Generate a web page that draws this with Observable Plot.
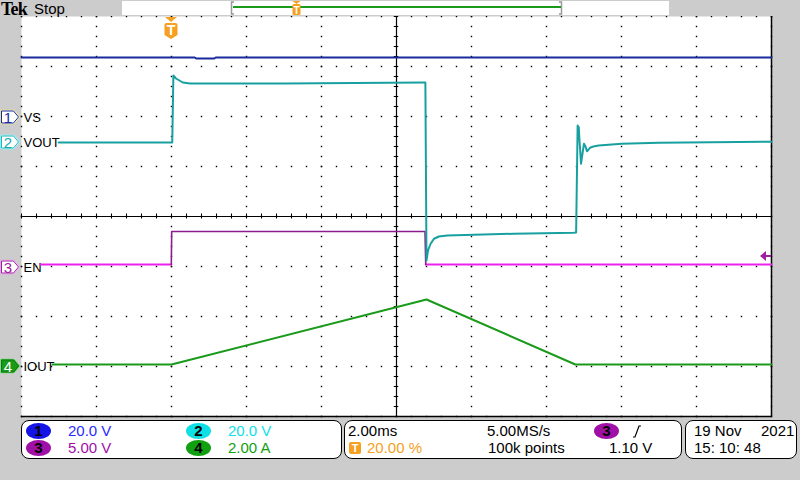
<!DOCTYPE html>
<html><head><meta charset="utf-8">
<script src="https://cdn.jsdelivr.net/npm/d3@7"></script>
<script src="https://cdn.jsdelivr.net/npm/@observablehq/plot@0.6"></script>
<style>
body{margin:0;background:#cccccc;}
#wrap{position:relative;width:800px;height:480px;overflow:hidden;background:#cccccc;font-family:"Liberation Sans",Arial,sans-serif;}
#wrap > svg{position:absolute;left:0;top:0;}
.abs{position:absolute;white-space:pre;line-height:1;}
.box{position:absolute;background:#fff;border:1px solid #000;border-radius:8px;box-sizing:border-box;}
.t{position:absolute;white-space:pre;font-size:15px;line-height:15px;}
.ell{position:absolute;border-radius:50%;text-align:center;font-weight:bold;font-size:15px;line-height:16px;color:#000;}
</style></head><body><div id="wrap"></div>
<script>
// ---- data (time in ms relative to trigger; values in channel units) ----
const vsTime   = [-4, 0.62, 0.66, 1.14, 1.18, 6.0, 16];
const vsVolts  = [24, 24, 23.6, 23.6, 24, 24, 24];

const voutTime  = [-3.01, 0.02, 0.05, 0.12, 0.3, 0.5, 3.0, 6.74, 6.77, 6.80, 6.84, 6.91, 7.0, 7.13, 7.35, 9.12, 10.72, 10.79, 10.83, 10.86, 10.88, 10.91, 10.92, 10.96, 11.0, 11.04, 11.08, 11.12, 11.16, 11.25, 11.39, 12.0, 13.0, 16];
const voutVolts = [0, 0, 26.8, 25.6, 24.0, 23.6, 23.6, 24.0, 24.0, -47.2, -43.2, -40.5, -38.5, -37.6, -37.2, -36.5, -36.1, -36.0, 6.8, 6.1, 0.8, -5.9, -8.5, -4.4, -0.5, -1.6, -3.5, -2.9, -2.1, -1.6, -1.2, -0.5, -0.1, 0.3];

const enTime   = [-3.49, -0.005, 0.005, 6.76, 6.78, 16];
const enVolts  = [0.3, 0.3, 3.6, 3.6, 0.3, 0.3];

const ioutTime = [-3.17, 0, 6.8, 10.77, 16];
const ioutAmps = [0.08, 0.08, 2.68, 0.08, 0.08];

const chNames  = ["VS", "VOUT", "EN", "IOUT"];
const chPerDiv = [20, 20, 5, 2];          // units per division
const chPos    = [1.98, 1.48, -1.02, -3.0]; // ground marker position (divisions)
const chColors = ["#1a2a9c", "#18a0a0", "#ee20ee", "#1a9a1a"];

const trigLevel = 1.10; // V on channel 3
const xDomain = [-4, 16]; // ms, 2 ms/div
const yDomain = [-4, 4];  // divisions

// ---- helpers ----
const toRows = (times, vals, ch) => times.map((t, i) => ({t, y: vals[i] / chPerDiv[ch] + chPos[ch]}));
const vsRows = toRows(vsTime, vsVolts, 0);
const voutRows = toRows(voutTime, voutVolts, 1);
const enRows = toRows(enTime, enVolts, 2);
const ioutRows = toRows(ioutTime, ioutAmps, 3);
const enLow1 = enRows.slice(0, 2), enHigh = enRows.slice(1, 5), enLow2 = enRows.slice(4);

const majorX = d3.range(0, 11).map(k => xDomain[0] + 2 * k);
const minorX = d3.range(0, 51).map(k => xDomain[0] + 0.4 * k);
const majorY = d3.range(-4, 5);
const minorY = d3.range(0, 41).map(k => -4 + 0.2 * k);
const grid = [];
for (const x of majorX) for (const y of minorY) grid.push({x, y});
for (const x of minorX) for (const y of majorY) grid.push({x, y});
const cx = 6;

const labels = chNames.map((n, i) => ({name: n, y: chPos[i]}));

const chart = Plot.plot({
  width: 800, height: 480,
  marginLeft: 21, marginRight: 29, marginTop: 16, marginBottom: 64,
  x: {domain: xDomain, axis: null},
  y: {domain: yDomain, axis: null},
  style: {background: "transparent", overflow: "visible"},
  marks: [
    Plot.frame({fill: "white", stroke: "none"}),
    Plot.dot(grid, {x: "x", y: "y", r: 0.8, fill: "#000", symbol: "square"}),
    Plot.ruleX([cx], {stroke: "#000", strokeWidth: 1.2}),
    Plot.ruleY([0], {stroke: "#000", strokeWidth: 1.2}),
    Plot.ruleX(minorX, {y1: -0.05, y2: 0.05, stroke: "#000"}),
    Plot.ruleY(minorY, {x1: cx - 0.06, x2: cx + 0.06, stroke: "#000"}),
    Plot.ruleX([xDomain[1]], {stroke: "#000", strokeWidth: 1.5}),
    Plot.ruleY([-4], {stroke: "#000", strokeWidth: 1.5}),
    Plot.text(labels, {x: xDomain[0], y: "y", text: "name", dx: 2, textAnchor: "start", fontSize: 13, fill: "#000", fontFamily: "Liberation Sans"}),
    Plot.line(ioutRows, {x: "t", y: "y", stroke: chColors[3], strokeWidth: 2}),
    Plot.line(enLow1, {x: "t", y: "y", stroke: chColors[2], strokeWidth: 2}),
    Plot.line(enLow2, {x: "t", y: "y", stroke: chColors[2], strokeWidth: 2}),
    Plot.line(enHigh, {x: "t", y: "y", stroke: "#8e1c8e", strokeWidth: 1.6}),
    Plot.line(voutRows, {x: "t", y: "y", stroke: chColors[1], strokeWidth: 2}),
    Plot.line(vsRows, {x: "t", y: "y", stroke: chColors[0], strokeWidth: 2})
  ]
});
const wrap = document.getElementById("wrap");
wrap.appendChild(chart);
const sx = chart.scale("x").apply, sy = chart.scale("y").apply;

// ---- overlay: markers, top bar, readouts ----
const NS = "http://www.w3.org/2000/svg";
const ov = document.createElementNS(NS, "svg");
ov.setAttribute("width", 800); ov.setAttribute("height", 480);
ov.style.position = "absolute"; ov.style.left = "0"; ov.style.top = "0";
let s = "";
// top bar
s += `<rect x="0" y="0" width="800" height="16" fill="#cccccc"/>`;
s += `<rect x="122" y="1" width="547" height="14" fill="#fff"/>`;
s += `<path d="M234,2 H231.5 V14 H234" fill="none" stroke="#999" stroke-width="1.5"/>`;
s += `<path d="M559,2 H561.5 V14 H559" fill="none" stroke="#999" stroke-width="1.5"/>`;
s += `<line x1="233" y1="7" x2="561" y2="7" stroke="#1a9a1a" stroke-width="2"/>`;
s += `<path d="M292.5,1 H300.5 L296.5,4 Z" fill="#f5a020"/>`;
s += `<rect x="292.5" y="4" width="8" height="11" rx="1.5" fill="#f5a020"/>`;
s += `<text x="296.5" y="13.5" text-anchor="middle" font-size="10" font-weight="bold" fill="#fff" font-family="Liberation Sans">T</text>`;
s += `<text x="1" y="14.5" font-size="18" font-weight="bold" font-family="Liberation Serif" fill="#000" letter-spacing="-0.8">Tek</text>`;
s += `<text x="34" y="14" font-size="15" font-family="Liberation Sans" fill="#000">Stop</text>`;
// trigger position marker
const tx = sx(0);
s += `<path d="M${tx-6},17 H${tx+6} L${tx},22 Z" fill="#f5a020"/>`;
s += `<path d="M${tx-6.5},25 Q${tx-6.5},23 ${tx-4.5},23 H${tx+4.5} Q${tx+6.5},23 ${tx+6.5},25 V35 L${tx},39 L${tx-6.5},35 Z" fill="#f5a020"/>`;
s += `<text x="${tx}" y="35" text-anchor="middle" font-size="14" font-weight="bold" fill="#fff" font-family="Liberation Sans">T</text>`;
// channel ground markers
const mk = [
  {n: "1", fill: "#fff", stroke: "#1a2aa8", outer: "#e6e08a", txt: "#1a2aa8"},
  {n: "2", fill: "#fff", stroke: "#18b8c0", outer: "#9ae8ee", txt: "#18a8b0"},
  {n: "3", fill: "#fff", stroke: "#a01ca0", outer: "#e0a8e0", txt: "#a01ca0"},
  {n: "4", fill: "#1a9a1a", stroke: "#0e7a0e", outer: "#8ad88a", txt: "#fff"}
];
mk.forEach((m, i) => {
  const c = sy(chPos[i]);
  s += `<path d="M0.5,${c-7} H14 L20,${c} L14,${c+7} H0.5 Z" fill="${m.fill}" stroke="${m.outer}" stroke-width="1"/>`;
  s += `<path d="M1.5,${c-6} H13.5 L18.5,${c} L13.5,${c+6} H1.5 Z" fill="none" stroke="${m.stroke}" stroke-width="1"/>`;
  s += `<text x="8" y="${c+5.5}" text-anchor="middle" font-size="15" font-family="Liberation Sans" fill="${m.txt}">${m.n}</text>`;
});
// trigger level arrow (channel 3)
const ty = sy(trigLevel / chPerDiv[2] + chPos[2]);
const rx = sx(xDomain[1]);
s += `<path d="M${rx-11},${ty} L${rx-5},${ty-5} V${ty+5} Z" fill="#a01ca0"/>`;
s += `<line x1="${rx-6}" y1="${ty}" x2="${rx}" y2="${ty}" stroke="#a01ca0" stroke-width="2"/>`;
ov.innerHTML = s;
wrap.appendChild(ov);

function add(html) { wrap.insertAdjacentHTML("beforeend", html); }
add(`<div class="box" style="left:21px;top:420px;width:321px;height:39px;"></div>`);
add(`<div class="box" style="left:344px;top:420px;width:338px;height:39px;"></div>`);
add(`<div class="box" style="left:685px;top:420px;width:112px;height:39px;"></div>`);
add(`<div class="ell" style="left:26px;top:423px;width:25px;height:16px;background:#1414e6;">1</div>`);
add(`<div class="ell" style="left:26px;top:440px;width:25px;height:16px;background:#a010a6;">3</div>`);
add(`<div class="ell" style="left:186px;top:423px;width:25px;height:16px;background:#10e0e6;">2</div>`);
add(`<div class="ell" style="left:186px;top:440px;width:25px;height:16px;background:#10a010;">4</div>`);
add(`<div class="t" style="left:68px;top:423px;color:#2a2aff;">${chPerDiv[0].toFixed(1)} V</div>`);
add(`<div class="t" style="left:68px;top:440px;color:#a010a6;">${chPerDiv[2].toFixed(2)} V</div>`);
add(`<div class="t" style="left:228px;top:423px;color:#10e0e6;">${chPerDiv[1].toFixed(1)} V</div>`);
add(`<div class="t" style="left:228px;top:440px;color:#10a010;">${chPerDiv[3].toFixed(2)} A</div>`);
add(`<div class="t" style="left:348px;top:423px;color:#000;">2.00ms</div>`);
add(`<div style="position:absolute;left:349px;top:442px;width:12px;height:12px;background:#f5a020;border-radius:2px;color:#fff;font-weight:bold;font-size:11px;line-height:12px;text-align:center;">T</div>`);
add(`<div class="t" style="left:367px;top:440px;color:#f5a020;">20.00 %</div>`);
add(`<div class="t" style="left:487px;top:423px;color:#000;">5.00MS/s</div>`);
add(`<div class="t" style="left:488px;top:440px;color:#000;">100k points</div>`);
add(`<div class="ell" style="left:594px;top:423px;width:25px;height:16px;background:#a010a6;">3</div>`);
add(`<svg style="position:absolute;left:632px;top:424px" width="10" height="14"><path d="M1,13 H3 L7,2 H9" fill="none" stroke="#000" stroke-width="1.2"/></svg>`);
add(`<div class="t" style="left:609px;top:440px;color:#000;">${trigLevel.toFixed(2)} V</div>`);
add(`<div class="t" style="left:694px;top:423px;color:#000;">19 Nov</div>`);
add(`<div class="t" style="left:761px;top:423px;color:#000;">2021</div>`);
add(`<div class="t" style="left:694px;top:440px;color:#000;">15: 10: 48</div>`);
</script></body></html>
